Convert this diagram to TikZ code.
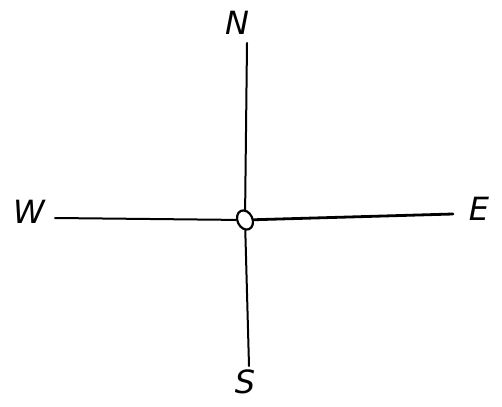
\documentclass[tikz,border=0pt]{standalone}
\usepackage{fontspec}
\setmainfont{DejaVu Sans}
\usetikzlibrary{shapes.geometric}
\begin{document}
\begin{tikzpicture}[x=1pt,y=-1pt,
  lbl/.style={font=\fontsize{32}{32}\selectfont\itshape, inner sep=0pt, anchor=center},
  axis/.style={line width=2pt, line cap=round}]
\useasboundingbox (0,0) rectangle (502,406);
\node[lbl] (N) at (237,23) {N};
\node[lbl] (S) at (245,382) {S};
\node[lbl] (W) at (29,212) {W};
\node[lbl] (E) at (479,209) {E};
\node[draw, ellipse, line width=2.2pt, minimum width=15pt, minimum height=20pt, inner sep=0pt, rotate=25] (O) at (245,220) {};
\coordinate (nt) at (247,43);
\coordinate (sb) at (249,366);
\coordinate (wl) at (55,218);
\coordinate (er) at (453,214);
\draw[axis] (nt) -- (O);
\draw[axis] (O) -- (sb);
\draw[axis] (wl) -- (O);
\draw[axis, line width=2.8pt] (O) -- (er);
\end{tikzpicture}
\end{document}
